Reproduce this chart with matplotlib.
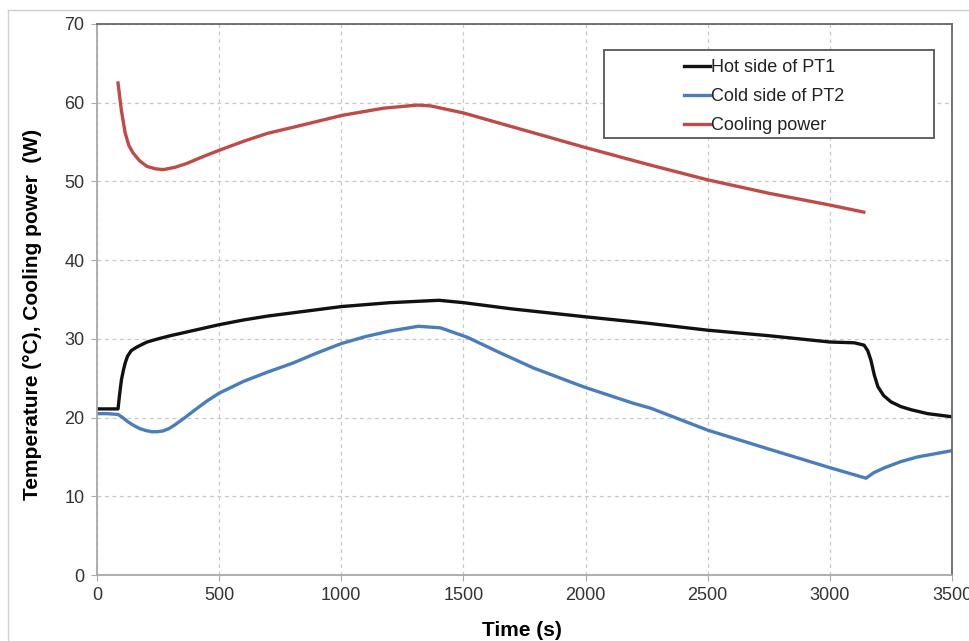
import matplotlib
matplotlib.use("Agg")
import matplotlib.pyplot as plt
from matplotlib.lines import Line2D
from matplotlib.patches import Rectangle

plt.rcParams['font.family'] = ['Liberation Sans', 'DejaVu Sans']

# Hot side of PT1 (black)
hot_t = [0, 40, 86, 92, 100, 108, 115, 125, 140, 160, 185, 205, 250, 300, 400, 500,
         600, 700, 850, 1000, 1200, 1400, 1500, 1700, 2000, 2250, 2500, 2750, 3000,
         3100, 3140, 3155, 3168, 3182, 3197, 3220, 3250, 3290, 3332, 3400, 3500]
hot_v = [21.1, 21.1, 21.1, 22.8, 24.8, 26.0, 26.9, 27.8, 28.5, 28.9, 29.3, 29.6,
         30.0, 30.4, 31.1, 31.8, 32.4, 32.9, 33.5, 34.1, 34.6, 34.9, 34.6, 33.8,
         32.8, 32.0, 31.1, 30.4, 29.6, 29.5, 29.2, 28.5, 27.3, 25.4, 23.9, 22.8,
         22.0, 21.4, 21.0, 20.5, 20.1]

# Cold side of PT2 (blue)
cold_t = [0, 40, 86, 105, 125, 150, 175, 200, 225, 246, 270, 295, 320, 360, 402, 450,
          500, 600, 700, 800, 900, 1000, 1100, 1200, 1316, 1406, 1516, 1652, 1787,
          1992, 2197, 2266, 2500, 2750, 3004, 3148, 3180, 3222, 3290, 3359, 3430, 3500]
cold_v = [20.5, 20.5, 20.4, 20.0, 19.5, 19.0, 18.6, 18.35, 18.2, 18.2, 18.3, 18.6,
          19.1, 20.0, 21.0, 22.1, 23.1, 24.6, 25.8, 26.9, 28.2, 29.4, 30.3, 31.0,
          31.6, 31.4, 30.2, 28.2, 26.3, 23.9, 21.8, 21.2, 18.4, 16.0, 13.6, 12.3,
          13.0, 13.6, 14.4, 15.0, 15.4, 15.8]

# Cooling power (red)
cool_t = [86, 100, 115, 130, 148, 175, 205, 240, 271, 320, 369, 430, 504, 600, 697,
          832, 1004, 1172, 1311, 1365, 1500, 1750, 2000, 2250, 2500, 2750, 3000, 3139]
cool_v = [62.5, 59.0, 56.2, 54.6, 53.6, 52.6, 51.9, 51.6, 51.5, 51.8, 52.3, 53.1,
          54.0, 55.1, 56.1, 57.1, 58.4, 59.3, 59.7, 59.6, 58.7, 56.5, 54.3, 52.2,
          50.2, 48.5, 47.0, 46.1]

labels = ["Hot side of PT1", "Cold side of PT2", "Cooling power"]
colors = ["#111111", "#4a7ebb", "#be4b48"]

fig = plt.figure(figsize=(9.7, 6.41), dpi=100)
ax = fig.add_axes([97/970, 1-575/641, (952-97)/970, (575-24)/641])

ax.plot(hot_t, hot_v, color=colors[0], lw=2.4, label=labels[0])
ax.plot(cold_t, cold_v, color=colors[1], lw=2.4, label=labels[1])
ax.plot(cool_t, cool_v, color=colors[2], lw=2.4, label=labels[2])

ax.set_xlim(0, 3500)
ax.set_ylim(0, 70)
ax.set_xticks(range(0, 3501, 500))
ax.set_yticks(range(0, 71, 10))
ax.grid(True, color="#c8c8c8", linestyle=(0, (3, 3)), linewidth=0.9)
ax.set_axisbelow(True)

for s in ["left", "bottom"]:
    ax.spines[s].set_color("#a8a8a8")
    ax.spines[s].set_linewidth(1.3)
for s in ["top", "right"]:
    ax.spines[s].set_color("#666666")
    ax.spines[s].set_linewidth(1.3)

ax.tick_params(axis="both", direction="out", length=4, color="#a8a8a8",
               labelsize=13, labelcolor="#333333", pad=5)
ax.set_xlabel("Time (s)", fontsize=15, fontweight="bold")
ax.set_ylabel("Temperature (°C), Cooling power  (W)", fontsize=15,
              fontweight="bold")
ax.xaxis.set_label_coords((522-97)/855, -(630-575)/551)
ax.yaxis.set_label_coords(-(97-32)/855, (575-314)/551)
ax.xaxis.label.set_va("center")
ax.yaxis.label.set_va("center")

# legend frame (wide box as in reference)
ax.add_patch(Rectangle(((604-97)/855, (575-138)/551), (934-604)/855, (138-50)/551,
                       transform=ax.transAxes, facecolor="white",
                       edgecolor="#555555", lw=1.3, zorder=4))
leg = ax.legend(loc="upper left", bbox_to_anchor=((684-97)/855, (575-59)/551),
                fontsize=13, handlelength=1.45, handletextpad=0.05,
                frameon=False, borderpad=0, labelspacing=0.66, borderaxespad=0)
leg.set_zorder(5)
for t in leg.get_texts():
    t.set_color("#222222")

# outer light-gray figure border (top and left)
fig.add_artist(Line2D([8/970, 1], [1-10/641, 1-10/641], transform=fig.transFigure,
                      color="#d0d0d0", lw=1))
fig.add_artist(Line2D([8/970, 8/970], [0, 1-10/641], transform=fig.transFigure,
                      color="#d0d0d0", lw=1))

fig.savefig("out.png", dpi=100)
